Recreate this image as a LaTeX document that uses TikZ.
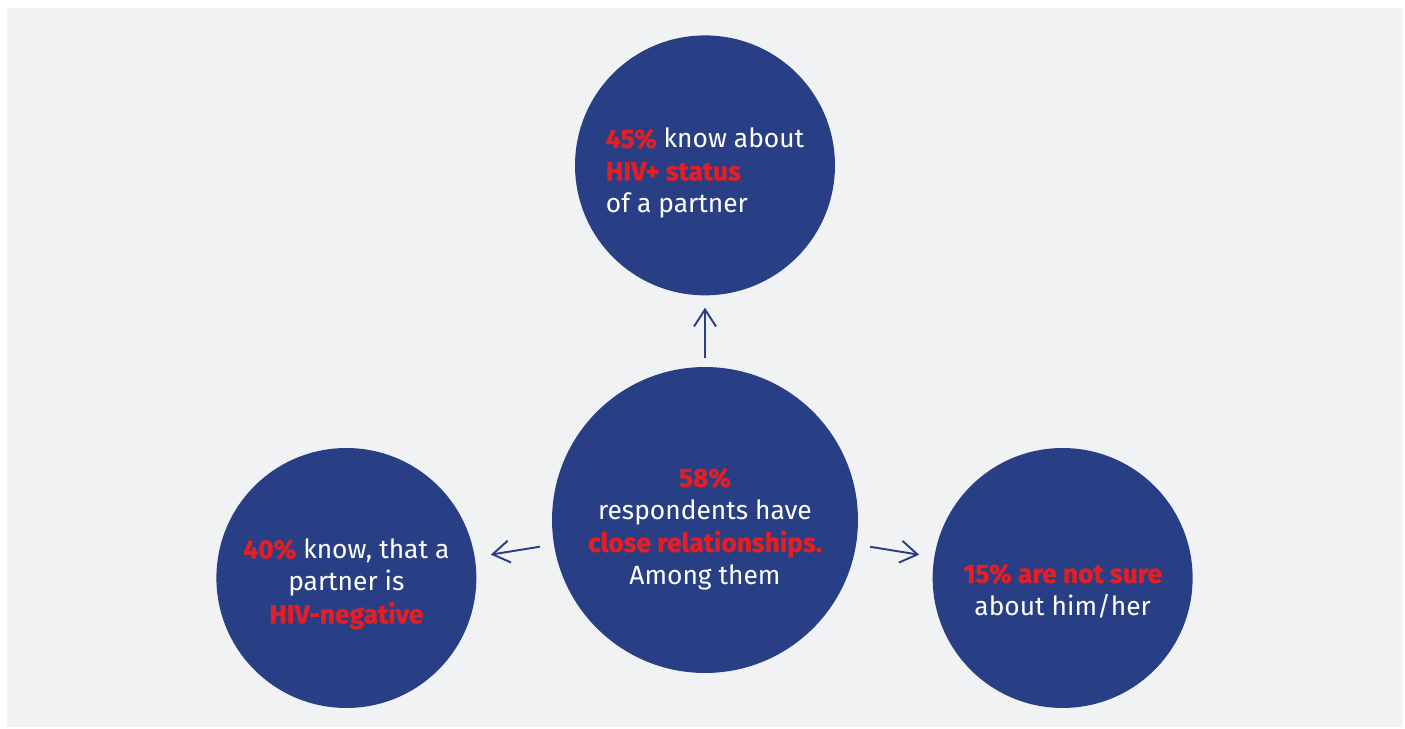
\documentclass[tikz,border=0pt]{standalone}
\usepackage{fontspec}
\setmainfont{Fira Sans}[BoldFeatures={FakeBold=1.2}]
\usetikzlibrary{arrows.meta, positioning}
\definecolor{circblue}{RGB}{40,63,134}
\definecolor{hivred}{RGB}{227,30,36}
\definecolor{panelgray}{RGB}{241,242,244}
\newcommand{\hl}[1]{\textcolor{hivred}{\bfseries #1}}

\begin{document}
\begin{tikzpicture}[x=0.02cm, y=-0.02cm, >={Straight Barb[length=3.4mm, width=4.4mm]}, font=\fontsize{15}{18.5}\selectfont]
    \tikzset{bubble/.style={circle, fill=circblue, inner sep=0pt, minimum size=5.2cm},
             caption/.style={text=white, align=center}}
    \useasboundingbox (0,0) rectangle (1405,729);

    % Panel
    \fill[panelgray] (7,8) rectangle (1403,727);

    % Circles
    \node[bubble, minimum size=6.12cm] (centre) at (705,520) {};
    \node[bubble, above=1.42cm of centre] (known) {};
    \node[bubble, left=1.5cm of centre, yshift=-1.16cm] (negative) {};
    \node[bubble, right=1.48cm of centre, yshift=-1.16cm] (unsure) {};

    % Texts
    \node[caption] (centretext) at ([yshift=-0.18cm]centre) {\hl{58\%}\\respondents have\\\hl{close relationships.}\\Among them};
    \node[caption, align=left] (knowntext) at ([yshift=-0.16cm]known) {\hl{45\%} know about\\\hl{HIV+ status}\\of a partner};
    \node[caption] (negativetext) at ([yshift=-0.12cm]negative) {\hl{40\%} know, that a\\partner is\\\hl{HIV-negative}};
    \node[caption] (unsuretext) at ([yshift=-0.26cm]unsure) {\hl{15\% are not sure}\\about him/her};

    % Arrows
    \draw[->, circblue, line width=1.1pt, shorten <=0.18cm, shorten >=0.24cm] (centre) -- (known);
    \draw[->, circblue, line width=1.1pt, shorten <=0.28cm, shorten >=0.32cm] (centre) -- (negative);
    \draw[->, circblue, line width=1.1pt, shorten <=0.28cm, shorten >=0.3cm] (centre) -- (unsure);
\end{tikzpicture}
\end{document}
